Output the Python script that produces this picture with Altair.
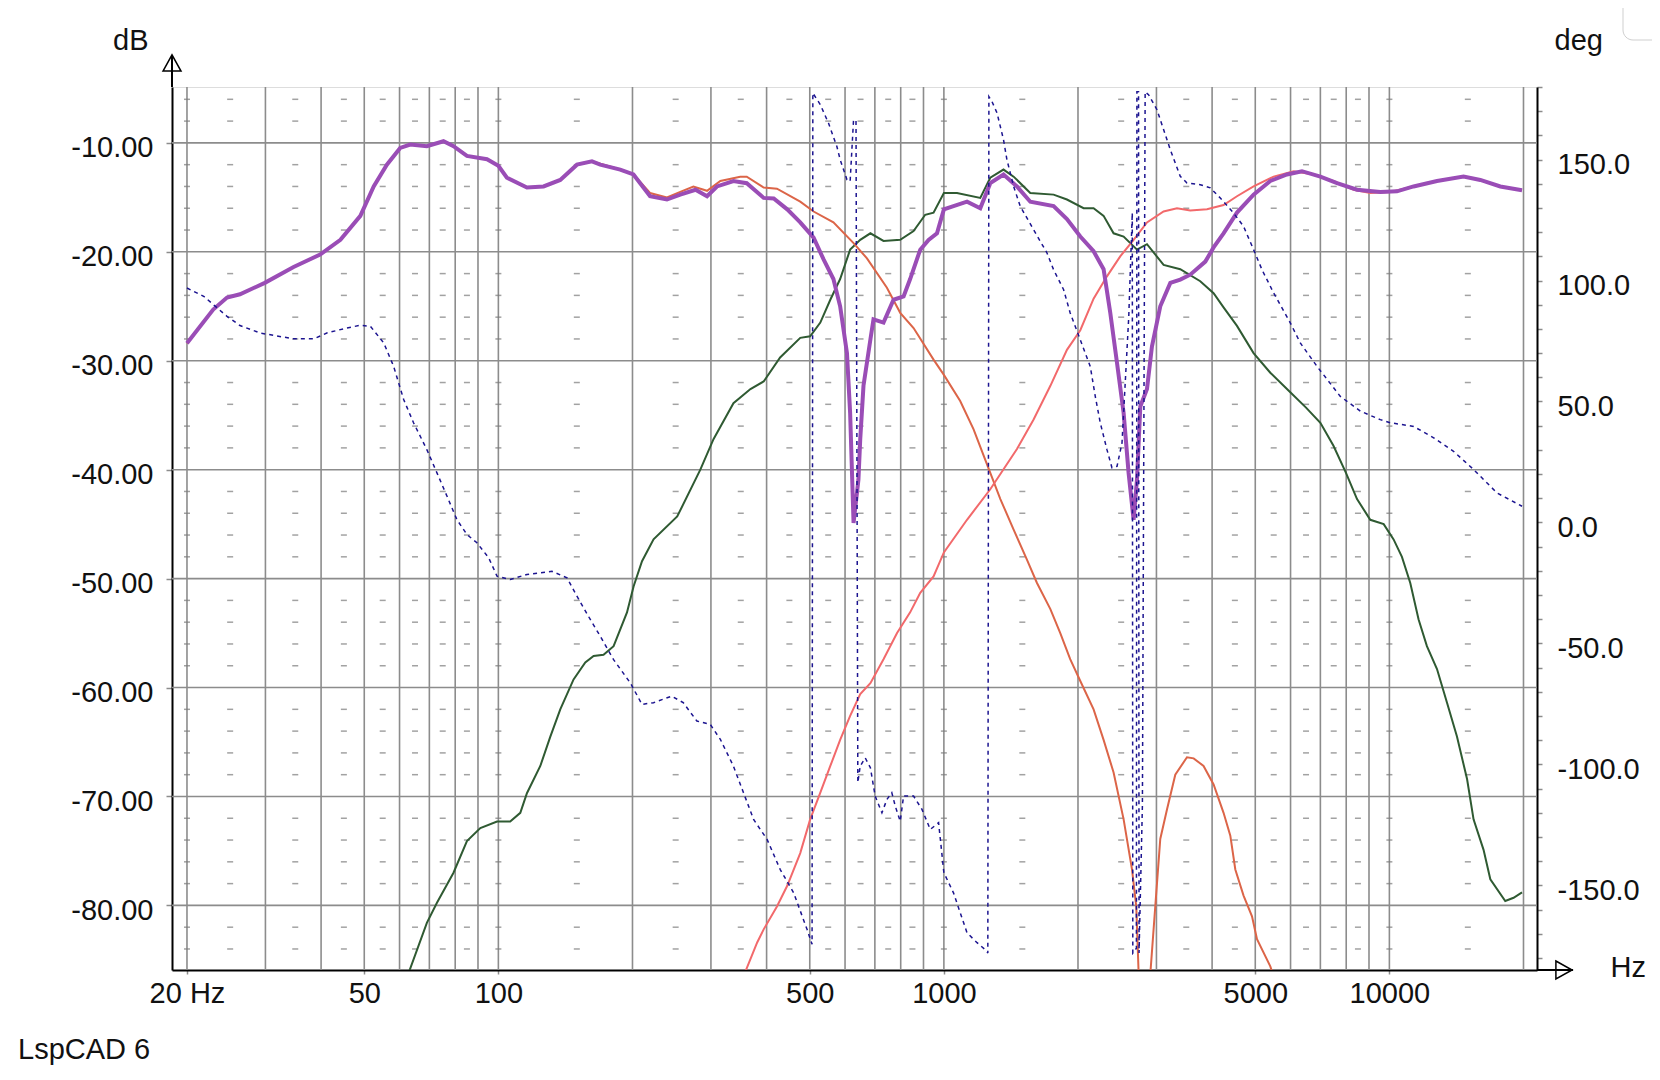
import altair as alt
import pandas as pd

# ---------------- data ----------------
# summed response (purple, dB)
sum_f = [20.0, 22.9, 24.6, 26.3, 29.9, 34.7, 39.8, 44.2, 49.0, 52.5, 56.2, 60.2, 63.4, 69.1, 75.3, 79.3,
         85.0, 94.3, 100, 104.5, 115.9, 126.3, 137.7, 150.1, 162.2, 169.3, 187.7, 201, 219, 239, 256, 277,
         294, 309.5, 337, 361, 394, 415, 445, 476, 510, 537, 565, 585, 606, 616, 627, 643, 649, 660, 684,
         695, 732, 771, 812, 840, 885, 924, 965, 1000, 1051, 1127, 1207, 1271, 1361, 1459, 1563, 1763,
         1889, 2024, 2168, 2283, 2363, 2447, 2532, 2598, 2666, 2713, 2760, 2857, 2931, 3060, 3223, 3393,
         3573, 3862, 4031, 4244, 4549, 4956, 5404, 5890, 6365, 7000, 7630, 8460, 9540, 10400, 11330,
         12790, 14670, 16000, 17740, 19850]
sum_db = [-28.4, -25.3, -24.2, -23.9, -22.85, -21.4, -20.25, -18.9, -16.7, -14.0, -12.0, -10.46, -10.15,
          -10.3, -9.85, -10.3, -11.2, -11.5, -12.1, -13.2, -14.1, -14.0, -13.4, -12.0, -11.7, -12.0,
          -12.45, -12.9, -14.9, -15.2, -14.75, -14.3, -14.9, -14.0, -13.5, -13.7, -15.05, -15.1, -16.1,
          -17.3, -18.7, -20.7, -22.5, -25.0, -29.3, -34.8, -44.9, -40.9, -37.2, -32.3, -28.05, -26.2,
          -26.5, -24.4, -24.1, -22.5, -19.8, -18.9, -18.3, -16.1, -15.8, -15.4, -16.0, -13.7, -12.9,
          -14.0, -15.4, -15.8, -17.0, -18.6, -19.95, -21.6, -25.6, -30.2, -34.8, -40.3, -44.6, -40.9,
          -34.2, -32.6, -28.7, -25.0, -22.85, -22.55, -22.1, -20.9, -19.6, -18.3, -16.4, -14.75, -13.5,
          -12.9, -12.6, -13.1, -13.7, -14.3, -14.5, -14.45, -14.0, -13.5, -13.1, -13.4, -14.0, -14.35]

# midrange (dark green, dB)
mid_f = [62.5, 69.1, 72.8, 79.3, 85.0, 91.1, 99.3, 106.3, 112, 115.9, 124.2, 130.8, 137.7, 147.5, 156.7,
         163.6, 172.2, 181.4, 194.4, 201.2, 210.1, 223, 252, 284, 304, 337, 368, 394, 429, 476, 501,
         528, 556, 585, 616, 649, 684, 732, 798, 855, 908, 948, 1000, 1070, 1207, 1271, 1361, 1434,
         1563, 1763, 1889, 2059, 2168, 2283, 2404, 2532, 2713, 2857, 3113, 3393, 3763, 4031, 4244,
         4549, 4956, 5404, 5890, 6500, 7000, 7490, 7990, 8460, 9060, 9710, 10220, 10670, 11140,
         11630, 12140, 12790, 13470, 14180, 14940, 15450, 16270, 16850, 18200, 19000, 19850]
mid_db = [-86.5, -81.6, -79.75, -77.0, -74.1, -72.9, -72.3, -72.3, -71.5, -69.7, -67.2, -64.5, -62.0,
          -59.25, -57.7, -57.1, -57.0, -56.2, -53.1, -50.7, -48.4, -46.4, -44.3, -40.0, -37.2, -33.9,
          -32.6, -31.9, -29.7, -27.9, -27.75, -26.5, -24.4, -22.5, -19.8, -18.9, -18.3, -19.0, -18.9,
          -18.1, -16.6, -16.4, -14.6, -14.6, -15.05, -13.2, -12.45, -13.1, -14.6, -14.75, -15.2, -16.0,
          -16.0, -16.7, -18.3, -18.6, -19.8, -19.3, -21.2, -21.6, -22.7, -23.8, -25.1, -26.8, -29.3,
          -31.1, -32.6, -34.3, -35.7, -37.8, -40.3, -42.7, -44.6, -45.0, -46.4, -48.0, -50.4, -53.75,
          -56.2, -58.3, -61.4, -64.5, -68.4, -72.1, -74.9, -77.6, -79.6, -79.3, -78.8]

# woofer low-pass (orange-red, dB)
low_f = [20.0, 22.9, 24.6, 26.3, 29.9, 34.7, 39.8, 44.2, 49.0, 52.5, 56.2, 60.2, 63.4, 69.1, 75.3, 79.3,
         85.0, 94.3, 100, 104.5, 115.9, 126.3, 137.7, 150.1, 162.2, 187.7, 201, 219, 239, 256, 274, 294,
         315, 349, 361, 394, 422, 476, 510, 565, 627, 672, 745, 798, 855, 948, 1000, 1088, 1166, 1271,
         1339, 1434, 1536, 1618, 1734, 1825, 1921, 2024, 2168, 2283, 2404, 2532, 2644, 2703, 2735, 2760,
         2880, 2910, 2982, 3060, 3168, 3307, 3513, 3636, 3827, 4031, 4244, 4395, 4510, 4706, 4916, 5045,
         5404, 5600]
low_db = [-28.4, -25.3, -24.2, -23.9, -22.85, -21.4, -20.25, -18.9, -16.7, -14.0, -12.0, -10.46, -10.15,
          -10.3, -9.85, -10.3, -11.2, -11.5, -12.1, -13.2, -14.1, -14.0, -13.4, -12.0, -11.7, -12.45,
          -12.9, -14.6, -15.0, -14.5, -14.0, -14.4, -13.5, -13.1, -13.1, -14.1, -14.2, -15.4, -16.3,
          -17.3, -19.2, -20.6, -23.3, -25.6, -27.0, -29.9, -31.3, -33.7, -36.3, -40.3, -42.7, -45.5,
          -48.25, -50.4, -52.8, -55.0, -57.4, -59.4, -62.0, -64.8, -67.8, -72.1, -76.7, -80.1, -86.0,
          -95.0, -95.0, -86.0, -80.1, -73.9, -71.2, -68.0, -66.4, -66.5, -67.2, -68.9, -71.5, -73.6,
          -76.7, -79.1, -81.0, -83.1, -85.6, -87.5]

# tweeter high-pass (salmon, dB)
high_f = [355, 381, 394, 422, 445, 476, 501, 528, 556, 585, 616, 649, 684, 732, 785, 840, 885, 948, 1000,
          1127, 1271, 1459, 1590, 1734, 1889, 2024, 2168, 2323, 2490, 2666, 2857, 3113, 3336, 3573,
          3896, 4244, 4549, 4956, 5497, 6095, 6760, 7490, 8310, 9060, 10050, 11330, 12790, 14670,
          16000, 17740, 19850]
high_db = [-86.5, -83.4, -82.2, -80.1, -78.2, -75.2, -72.1, -69.65, -67.2, -64.8, -62.6, -60.6, -59.6,
           -57.4, -55.0, -53.1, -51.3, -49.8, -47.6, -44.6, -41.8, -38.1, -35.4, -32.3, -29.0, -27.2,
           -24.3, -22.25, -20.4, -18.9, -17.3, -16.3, -16.0, -16.2, -16.1, -15.7, -14.9, -14.0, -13.1,
           -12.6, -12.9, -13.5, -14.3, -14.6, -14.5, -14.0, -13.5, -13.1, -13.4, -14.0, -14.35]

# phase of the sum (navy dashed, deg, right axis)
ph_f = [20.0, 21.8, 24.6, 26.3, 29.2, 34.7, 38.5, 41.2, 45.7, 49.0, 51.6, 55.3, 58.2, 61.3, 64.5, 69.1,
        72.8, 76.7, 80.7, 85.0, 89.5, 95.1, 99.3, 106.3, 115.9, 131.9, 142.6, 150.1, 160.8, 169.3, 181.4,
        197.7, 210.1, 223, 245, 260, 279, 299, 315, 337, 355, 374, 401, 429, 460, 493, 506, 508, 528,
        551, 575, 585, 606, 616, 627, 635, 641, 649, 666, 684, 701, 726, 745, 764, 778, 798, 812, 855,
        893, 932, 973, 1000, 1051, 1088, 1127, 1187, 1249, 1255, 1262, 1282, 1316, 1361, 1385, 1434,
        1484, 1590, 1704, 1763, 1857, 1921, 2024, 2131, 2187, 2244, 2323, 2384, 2447, 2511, 2600, 2648,
        2655, 2705, 2712, 2735, 2742, 2790, 2830, 2880, 3008, 3113, 3223, 3393, 3513, 3763, 3963, 4173,
        4470, 4706, 4956, 5176, 5497, 5992, 6310, 6880, 7760, 8610, 9540, 10050, 11330, 12570, 13930,
        15450, 17440, 19850]
ph_deg = [96.9, 93.5, 85.2, 81.4, 78.3, 75.9, 75.9, 78.3, 80.4, 81.5, 81.1, 74.2, 64.5, 50.8, 41.2, 30.1,
          20.5, 10.8, 1.2, -5.0, -8.4, -14.6, -22.2, -23.6, -21.5, -20.2, -22.9, -30.5, -40.1, -47.0,
          -56.7, -66.3, -75.2, -74.5, -71.8, -74.5, -82.1, -83.5, -89.7, -100.7, -111.7, -122.8, -131.0,
          -143.4, -153.1, -168.2, -174.4, 177.5, 172.7, 165.0, 155.5, 150.0, 141.7, 141.0, 166.5, 166.0,
          -107.5, -100.7, -97.3, -101.4, -113.1, -120.0, -114.5, -111.7, -117.3, -123.5, -113.1, -113.1,
          -118.6, -126.9, -124.1, -144.8, -153.1, -161.3, -169.6, -173.7, -177.2, -178.0, 176.0, 174.0,
          169.3, 158.2, 150.0, 138.9, 130.7, 121.0, 111.4, 104.5, 96.2, 86.6, 75.5, 64.5, 52.1, 41.2,
          30.1, 22.6, 23.2, 32.9, 85.0, 128.0, -178.0, -176.0, 178.0, 178.0, -178.0, -117.0, 178.0,
          176.8, 170.6, 162.4, 154.1, 143.1, 140.3, 139.6, 138.3, 134.1, 127.9, 122.4, 112.8, 104.5,
          94.9, 82.5, 74.2, 64.5, 52.1, 46.0, 42.5, 41.2, 39.7, 35.0, 29.4, 21.9, 12.2, 6.7]

# grid / axis values
grid_f = [20, 30, 40, 50, 60, 70, 80, 90, 100, 200, 300, 400, 500, 600, 700, 800, 900,
          1000, 2000, 3000, 4000, 5000, 6000, 7000, 8000, 9000, 10000, 20000]
grid_db = [-80, -70, -60, -50, -40, -30, -20, -10]
minor_f = [20, 25, 35, 45, 55, 65, 75, 85, 100, 150, 250, 350, 450, 550, 650, 750, 850,
           1000, 1500, 2500, 3500, 4500, 5500, 6500, 7500, 8500, 10000, 15000]
minor_db = [-6, -8, -12, -14, -16, -18, -22, -24, -26, -28, -32, -34, -36, -38, -42, -44, -46, -48,
            -52, -54, -56, -58, -62, -64, -66, -68, -72, -74, -76, -78, -82, -84]
x_labels = [20, 50, 100, 500, 1000, 5000, 10000]
db_ticks = [-80, -70, -60, -50, -40, -30, -20, -10]
deg_ticks = [-180, -170, -160, -150, -140, -130, -120, -110, -100, -90, -80, -70, -60, -50, -40, -30,
             -20, -10, 0, 10, 20, 30, 40, 50, 60, 70, 80, 90, 100, 110, 120, 130, 140, 150, 160, 170, 180]

# ---------------- chart ----------------
FONT = "Liberation Sans"
GRID = "#8c8c8c"
TXT = "#111111"
W, H = 1365, 883

XS = alt.Scale(type="log", domain=[18.51, 21446], nice=False)
YS = alt.Scale(domain=[-85.93, -4.87], nice=False, zero=False)
PS = alt.Scale(domain=[-185, 180], nice=False, zero=False)

x_axis = alt.Axis(values=x_labels, grid=False, orient="bottom",
                  labelExpr="datum.value == 20 ? '20 Hz' : format(datum.value, 'd')",
                  domainColor="black", domainWidth=2, tickSize=4, tickColor=GRID, tickWidth=1.5,
                  labelFontSize=29, labelFont=FONT, labelColor=TXT, labelPadding=5,
                  labelFlush=False, labelOverlap=False,
                  title="Hz", titleX=1438, titleY=6, titleAlign="left", titleBaseline="alphabetic",
                  titleFontSize=29, titleFont=FONT, titleFontWeight="normal", titleColor=TXT)

db_axis = alt.Axis(values=db_ticks, grid=False, orient="left",
                   labelExpr="(datum.value < 0 ? '-' : '') + format(abs(datum.value), '.2f')",
                   domainColor="black", domainWidth=2, tickSize=6, tickColor=GRID, tickWidth=1.5,
                   labelFontSize=29, labelFont=FONT, labelColor=TXT, labelPadding=13,
                   labelOffset=5, labelFlush=False, labelOverlap=False,
                   title="dB", titleAngle=0, titleX=-24, titleY=-37.5, titleAlign="right",
                   titleBaseline="alphabetic", titleFontSize=29, titleFont=FONT,
                   titleFontWeight="normal", titleColor=TXT)

deg_axis = alt.Axis(values=deg_ticks, grid=False, orient="right",
                    labelExpr="datum.value % 50 == 0 ? ((datum.value < 0 ? '-' : '') + format(abs(datum.value), '.1f')) : ''",
                    domainColor="black", domainWidth=2, tickSize=5, tickColor=GRID, tickWidth=1.5,
                    labelFontSize=29, labelFont=FONT, labelColor=TXT, labelPadding=15,
                    labelOffset=5, labelFlush=False, labelOverlap=False,
                    title="deg", titleAngle=0, titleX=17, titleY=-37.5, titleAlign="left",
                    titleBaseline="alphabetic", titleFontSize=29, titleFont=FONT,
                    titleFontWeight="normal", titleColor=TXT)


def xenc():
    return alt.X("f:Q", scale=XS, axis=x_axis)


def yenc():
    return alt.Y("v:Q", scale=YS, axis=db_axis)


def df(f, v):
    return pd.DataFrame({"f": f, "v": v})


vgrid = alt.Chart(pd.DataFrame({"f": grid_f})).mark_rule(color=GRID, strokeWidth=1.6).encode(
    x=xenc())
hgrid = alt.Chart(pd.DataFrame({"v": grid_db})).mark_rule(color=GRID, strokeWidth=1.6).encode(
    y=yenc())

minor_rows = [{"f": f, "v": v} for f in minor_f for v in minor_db]
dashes = alt.Chart(pd.DataFrame(minor_rows)).mark_tick(
    orient="horizontal", size=6, thickness=1.5, color="#7a7a7a").encode(x=xenc(), y=yenc())

one = pd.DataFrame({"k": [0]})
up_line = alt.Chart(one).mark_rule(color="black", strokeWidth=2).encode(
    x=alt.value(0), y=alt.value(-32), y2=alt.value(0))
up_arrow = alt.Chart(one).mark_point(shape="M -1 0.9 L 0 -0.9 L 1 0.9 Z", size=324, filled=False,
                                     color="black", strokeWidth=1.5, opacity=1).encode(
    x=alt.value(0), y=alt.value(-24))
right_line = alt.Chart(one).mark_rule(color="black", strokeWidth=2).encode(
    x=alt.value(W), x2=alt.value(W + 36), y=alt.value(H))
right_arrow = alt.Chart(one).mark_point(shape="M -0.9 -1 L 0.9 0 L -0.9 1 Z", size=324, filled=False,
                                        color="black", strokeWidth=1.5, opacity=1).encode(
    x=alt.value(W + 27), y=alt.value(H))
brand = alt.Chart(one).mark_text(text="LspCAD 6", align="left", baseline="alphabetic", fontSize=29,
                                 font=FONT, color=TXT).encode(
    x=alt.value(-154), y=alt.value(972))
corner = alt.Chart(one).mark_rect(fill="white", stroke="#cfcfcf", strokeWidth=1, cornerRadius=10).encode(
    x=alt.value(1451), x2=alt.value(1620), y=alt.value(-140), y2=alt.value(-47))

green = alt.Chart(df(mid_f, mid_db)).mark_line(color="#2f5a32", strokeWidth=2, clip=True).encode(
    x=xenc(), y=yenc())
lowpass = alt.Chart(df(low_f, low_db)).mark_line(color="#dc6548", strokeWidth=2, clip=True).encode(
    x=xenc(), y=yenc())
highpass = alt.Chart(df(high_f, high_db)).mark_line(color="#f2696b", strokeWidth=2, clip=True).encode(
    x=xenc(), y=yenc())
purple = alt.Chart(df(sum_f, sum_db)).mark_line(color="#9a4db6", strokeWidth=4, clip=True).encode(
    x=xenc(), y=yenc())

db_layer = alt.layer(vgrid, hgrid, dashes, up_line, up_arrow, right_line, right_arrow, brand, corner,
                     green, lowpass, highpass, purple)

phase = alt.Chart(df(ph_f, ph_deg)).mark_line(color="#1c1490", strokeWidth=1.5, strokeDash=[4, 4],
                                              clip=True).encode(
    x=xenc(), y=alt.Y("v:Q", scale=PS, axis=deg_axis))

chart = alt.layer(db_layer, phase).resolve_scale(y="independent").properties(
    width=W, height=H,
    autosize=alt.AutoSizeParams(type="none"),
    padding={"left": 164, "top": 79, "right": 115, "bottom": 102},
    background="white",
).configure_view(stroke="black", strokeWidth=2).configure(font=FONT)

chart.save("out.html", embed_options={"renderer": "svg", "actions": False})
